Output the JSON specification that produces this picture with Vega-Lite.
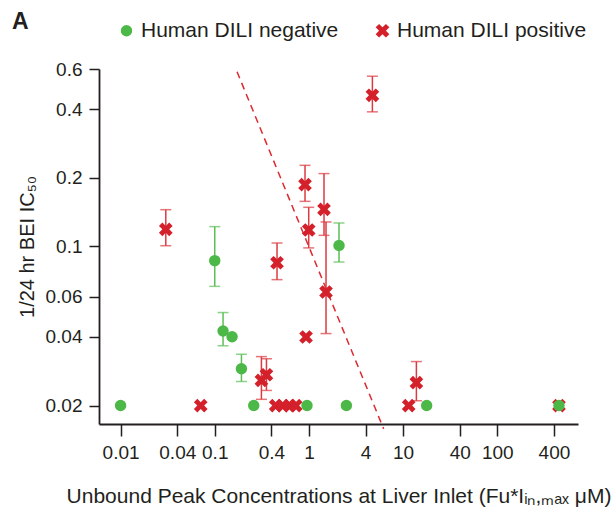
{
  "$schema": "https://vega.github.io/schema/vega-lite/v6.json",
  "width": 479,
  "height": 355,
  "autosize": {"type": "none"},
  "padding": {"left": 99, "top": 69, "right": 37, "bottom": 96},
  "config": {
    "font": "Liberation Sans",
    "view": {"stroke": null},
    "axis": {
      "grid": false,
      "domainColor": "#231f20",
      "tickColor": "#231f20",
      "labelColor": "#231f20",
      "titleColor": "#231f20",
      "labelFontSize": 19,
      "titleFontSize": 20,
      "titleFontWeight": "normal",
      "domainWidth": 1.8,
      "tickWidth": 1.5
    }
  },
  "title": {
    "text": "A",
    "anchor": "start",
    "frame": "group",
    "fontSize": 23,
    "fontWeight": "bold",
    "color": "#231f20",
    "dx": -87,
    "offset": -14
  },
  "datasets": {
    "pts": [
      {"g": "Human DILI positive", "x": 0.0302, "y": 0.1187},
      {"g": "Human DILI positive", "x": 0.071, "y": 0.02},
      {"g": "Human DILI positive", "x": 0.313, "y": 0.0258},
      {"g": "Human DILI positive", "x": 0.354, "y": 0.0273},
      {"g": "Human DILI positive", "x": 0.444, "y": 0.02},
      {"g": "Human DILI positive", "x": 0.527, "y": 0.02},
      {"g": "Human DILI positive", "x": 0.625, "y": 0.02},
      {"g": "Human DILI positive", "x": 0.724, "y": 0.02},
      {"g": "Human DILI positive", "x": 0.4585, "y": 0.0847},
      {"g": "Human DILI positive", "x": 0.909, "y": 0.1865},
      {"g": "Human DILI positive", "x": 0.995, "y": 0.1179},
      {"g": "Human DILI positive", "x": 0.932, "y": 0.04},
      {"g": "Human DILI positive", "x": 1.446, "y": 0.1453},
      {"g": "Human DILI positive", "x": 1.519, "y": 0.063},
      {"g": "Human DILI positive", "x": 4.72, "y": 0.46},
      {"g": "Human DILI positive", "x": 11.47, "y": 0.02},
      {"g": "Human DILI positive", "x": 13.84, "y": 0.0252},
      {"g": "Human DILI positive", "x": 452, "y": 0.02},
      {"g": "Human DILI negative", "x": 0.01, "y": 0.02},
      {"g": "Human DILI negative", "x": 0.1, "y": 0.0865},
      {"g": "Human DILI negative", "x": 0.1225, "y": 0.0425},
      {"g": "Human DILI negative", "x": 0.1527, "y": 0.0401},
      {"g": "Human DILI negative", "x": 0.192, "y": 0.029},
      {"g": "Human DILI negative", "x": 0.2594, "y": 0.02},
      {"g": "Human DILI negative", "x": 0.954, "y": 0.02},
      {"g": "Human DILI negative", "x": 2.087, "y": 0.1009},
      {"g": "Human DILI negative", "x": 2.5, "y": 0.02},
      {"g": "Human DILI negative", "x": 17.8, "y": 0.02},
      {"g": "Human DILI negative", "x": 452, "y": 0.02}
    ],
    "errPos": [
      {"x": 0.0302, "lo": 0.1006, "hi": 0.1448},
      {"x": 0.313, "lo": 0.0213, "hi": 0.0328},
      {"x": 0.354, "lo": 0.0233, "hi": 0.0321},
      {"x": 0.4585, "lo": 0.0714, "hi": 0.1034},
      {"x": 0.909, "lo": 0.1575, "hi": 0.2267},
      {"x": 0.995, "lo": 0.0984, "hi": 0.1483},
      {"x": 1.446, "lo": 0.1117, "hi": 0.2085},
      {"x": 1.519, "lo": 0.0414, "hi": 0.1279},
      {"x": 4.72, "lo": 0.3892, "hi": 0.5578},
      {"x": 13.84, "lo": 0.021, "hi": 0.0312}
    ],
    "errNeg": [
      {"x": 0.1, "lo": 0.0667, "hi": 0.122},
      {"x": 0.1225, "lo": 0.0366, "hi": 0.0512},
      {"x": 0.192, "lo": 0.0255, "hi": 0.0336},
      {"x": 2.087, "lo": 0.0853, "hi": 0.1266}
    ],
    "cut": [
      {"x": 0.1725, "y": 0.5833},
      {"x": 6.22, "y": 0.0158}
    ]
  },
  "encoding": {
    "x": {
      "field": "x",
      "type": "quantitative",
      "scale": {"type": "log", "domain": [0.0059, 720], "nice": false},
      "axis": {
        "values": [0.01, 0.04, 0.1, 0.4, 1, 4, 10, 40, 100, 400],
        "format": "~g",
        "tickSize": 12,
        "labelPadding": 7,
        "titlePadding": 23,
        "titleFontSize": 21
      },
      "title": "Unbound Peak Concentrations at Liver Inlet (Fu*Iᵢₙ,ₘₐₓ μM)"
    },
    "y": {
      "field": "y",
      "type": "quantitative",
      "scale": {"type": "log", "domain": [0.0166, 0.6], "nice": false},
      "axis": {
        "values": [0.02, 0.04, 0.06, 0.1, 0.2, 0.4, 0.6],
        "format": "~g",
        "tickSize": 10,
        "labelPadding": 7,
        "titlePadding": 8
      },
      "title": "1/24 hr BEI IC₅₀"
    }
  },
  "layer": [
    {
      "data": {"values": [{}]},
      "mark": {"type": "rule", "color": "#c8c8c8", "strokeWidth": 1.5},
      "encoding": {"y": {"datum": 0.02, "type": "quantitative"}, "x": null}
    },
    {
      "data": {"name": "cut"},
      "mark": {"type": "line", "color": "#dd2a30", "strokeWidth": 1.5, "strokeDash": [7, 5]},
      "encoding": {}
    },
    {
      "data": {"name": "errPos"},
      "mark": {"type": "rule", "strokeWidth": 1.5, "color": "#dc3a42"},
      "encoding": {
        "y": {"field": "lo", "type": "quantitative", "title": "1/24 hr BEI IC₅₀"},
        "y2": {"field": "hi"}
      }
    },
    {
      "data": {"name": "errPos"},
      "mark": {"type": "tick", "orient": "horizontal", "size": 11, "thickness": 1.5, "color": "#dc3a42"},
      "encoding": {"y": {"field": "lo", "type": "quantitative", "title": "1/24 hr BEI IC₅₀"}}
    },
    {
      "data": {"name": "errPos"},
      "mark": {"type": "tick", "orient": "horizontal", "size": 11, "thickness": 1.5, "color": "#dc3a42"},
      "encoding": {"y": {"field": "hi", "type": "quantitative", "title": "1/24 hr BEI IC₅₀"}}
    },
    {
      "data": {"name": "errNeg"},
      "mark": {"type": "rule", "strokeWidth": 1.5, "color": "#5cbf55"},
      "encoding": {
        "y": {"field": "lo", "type": "quantitative", "title": "1/24 hr BEI IC₅₀"},
        "y2": {"field": "hi"}
      }
    },
    {
      "data": {"name": "errNeg"},
      "mark": {"type": "tick", "orient": "horizontal", "size": 11, "thickness": 1.5, "color": "#5cbf55"},
      "encoding": {"y": {"field": "lo", "type": "quantitative", "title": "1/24 hr BEI IC₅₀"}}
    },
    {
      "data": {"name": "errNeg"},
      "mark": {"type": "tick", "orient": "horizontal", "size": 11, "thickness": 1.5, "color": "#5cbf55"},
      "encoding": {"y": {"field": "hi", "type": "quantitative", "title": "1/24 hr BEI IC₅₀"}}
    },
    {
      "data": {"name": "pts"},
      "mark": {"type": "point", "filled": true, "opacity": 1, "size": 130},
      "encoding": {
        "color": {
          "field": "g",
          "type": "nominal",
          "scale": {"domain": ["Human DILI negative", "Human DILI positive"], "range": ["#4cb848", "#d4202a"]},
          "legend": {
            "title": null,
            "orient": "none",
            "legendX": 17,
            "legendY": -49,
            "direction": "horizontal",
            "labelFontSize": 21,
            "labelColor": "#231f20",
            "labelLimit": 400,
            "symbolSize": 130,
            "labelOffset": 4,
            "columnPadding": 33
          }
        },
        "shape": {
          "field": "g",
          "type": "nominal",
          "scale": {"domain": ["Human DILI negative", "Human DILI positive"], "range": ["circle", "M -1.2 -0.6 L -0.6 -1.2 L 0 -0.6 L 0.6 -1.2 L 1.2 -0.6 L 0.6 0 L 1.2 0.6 L 0.6 1.2 L 0 0.6 L -0.6 1.2 L -1.2 0.6 L -0.6 0 Z"]},
          "legend": {
            "title": null,
            "orient": "none",
            "legendX": 17,
            "legendY": -49,
            "direction": "horizontal",
            "labelFontSize": 21,
            "labelColor": "#231f20",
            "labelLimit": 400,
            "symbolSize": 130,
            "labelOffset": 4,
            "columnPadding": 33
          }
        }
      }
    }
  ]
}
